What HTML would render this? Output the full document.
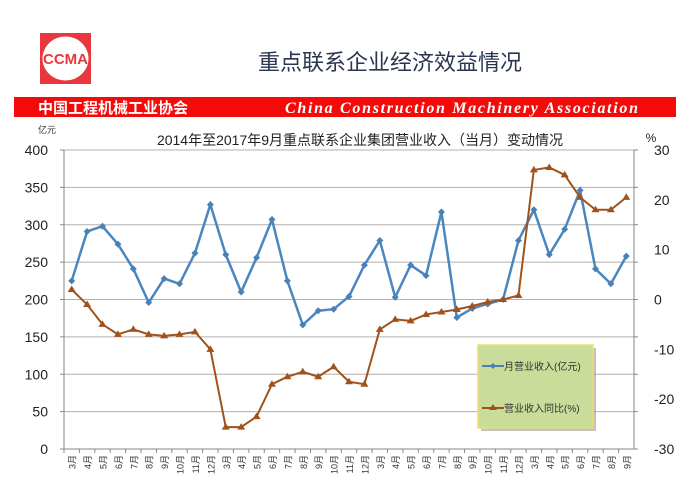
<!DOCTYPE html>
<html><head><meta charset="utf-8"><style>
body{margin:0;background:#fff;width:688px;height:477px;overflow:hidden;font-family:"Liberation Sans","Noto Sans CJK SC",sans-serif}
</style></head><body>
<svg id="s" width="688" height="477" xmlns="http://www.w3.org/2000/svg" font-family="Liberation Sans, Noto Sans CJK SC, sans-serif">
<rect x="40" y="33" width="51" height="51" fill="#e8383d"/>
<ellipse cx="65.5" cy="58.5" rx="23" ry="22" fill="#fff"/>
<text x="65.5" y="64" font-size="15" font-weight="bold" fill="#e8383d" text-anchor="middle">CCMA</text>
<text x="390" y="70" font-size="22" fill="#2a3550" text-anchor="middle">重点联系企业经济效益情况</text>
<rect x="14" y="97" width="662" height="20" fill="#f50a0a"/>
<text x="38" y="113" font-size="15" font-weight="bold" fill="#fff">中国工程机械工业协会</text>
<text x="285" y="113" font-size="16" font-style="italic" font-weight="bold" font-family="Liberation Serif, serif" fill="#fff" textLength="353" lengthAdjust="spacing">China Construction Machinery Association</text>
<text x="38" y="133" font-size="9" fill="#333">亿元</text>
<text x="360" y="145" font-size="14" fill="#222" text-anchor="middle">2014年至2017年9月重点联系企业集团营业收入（当月）变动情况</text>
<text x="651" y="142" font-size="12" fill="#222" text-anchor="middle">%</text>
<g id="g"></g>
<rect x="481" y="348" width="115" height="83" fill="#888" opacity="0.5"/>
<rect x="478" y="345" width="115" height="83" fill="#c9dc9a" stroke="#e8e070" stroke-width="1.5"/>
<line x1="482" y1="366" x2="504" y2="366" stroke="#4a7fb8" stroke-width="2"/>
<path d="M493 363l3 3-3 3-3-3z" fill="#4a7fb8"/>
<text x="504" y="370" font-size="10" fill="#333">月营业收入(亿元)</text>
<line x1="482" y1="408" x2="504" y2="408" stroke="#a0521a" stroke-width="2"/>
<path d="M493 404l4 6h-8z" fill="#a0521a"/>
<text x="504" y="412" font-size="10" fill="#333">营业收入同比(%)</text>
</svg>
<script>
var g=document.getElementById('g'),h='';
var L=64,R=634,T=150,B=449,n=37,w=(R-L)/n;
for(var i=0;i<=8;i++){var y=T+i*(B-T)/8;
 if(i<8)h+='<line x1="'+L+'" y1="'+y+'" x2="'+R+'" y2="'+y+'" stroke="#b0b0b0" stroke-width="1"/>';
 h+='<text x="'+(L-16)+'" y="'+(y+5)+'" font-size="14" fill="#222" text-anchor="end">'+(400-i*50)+'</text>';
 h+='<line x1="'+(L-4)+'" y1="'+y+'" x2="'+L+'" y2="'+y+'" stroke="#888"/><line x1="'+R+'" y1="'+y+'" x2="'+(R+4)+'" y2="'+y+'" stroke="#888"/>';
}
for(var i=0;i<=6;i++){var y=T+i*(B-T)/6;h+='<text x="'+(R+20)+'" y="'+(y+5)+'" font-size="14" fill="#222">'+(30-i*10)+'</text>';}
h+='<line x1="'+L+'" y1="'+T+'" x2="'+L+'" y2="'+B+'" stroke="#888"/><line x1="'+R+'" y1="'+T+'" x2="'+R+'" y2="'+B+'" stroke="#888"/><line x1="'+L+'" y1="'+B+'" x2="'+R+'" y2="'+B+'" stroke="#888"/>';
var m=[];for(var k=0;k<3;k++)for(var j=3;j<=12;j++)m.push(j);for(var j=3;j<=9;j++)m.push(j);
for(var i=0;i<n;i++){var x=L+i*w;h+='<line x1="'+x+'" y1="'+B+'" x2="'+x+'" y2="'+(B+4)+'" stroke="#888"/>';
 var cx=L+(i+0.5)*w;h+='<text transform="translate('+(cx+4)+','+(B+6)+') rotate(-90)" font-size="9" fill="#333" text-anchor="end">'+m[i]+'月</text>';}
var b=[225,291,298,274,241,196,228,221,262,327,260,210,256,307,225,166,185,187,204,246,279,203,246,232,317,176,188,194,200,279,320,260,294,346,241,221,258];
var r=[2,-1,-5,-7,-6,-7,-7.3,-7,-6.5,-10,-25.6,-25.6,-23.5,-17,-15.5,-14.5,-15.5,-13.5,-16.5,-17,-6,-4,-4.3,-3,-2.5,-2,-1.3,-0.5,0,0.8,26,26.5,25,20.5,18,18,20.5];
function yb(v){return B-v/400*(B-T)}function yr(v){return B-(v+30)/60*(B-T)}
var pb='',pr='',mk='';
for(var i=0;i<n;i++){var x=L+(i+0.5)*w;pb+=(i?'L':'M')+x+' '+yb(b[i]);pr+=(i?'L':'M')+x+' '+yr(r[i]);
 var y=yb(b[i]);mk+='<path d="M'+x+' '+(y-3.5)+'l3.5 3.5-3.5 3.5-3.5-3.5z" fill="#4a7fb8"/>';
 y=yr(r[i]);mk+='<path d="M'+x+' '+(y-4)+'l4 6.5h-8z" fill="#a0521a"/>';}
h+='<path d="'+pb+'" fill="none" stroke="#4a86c0" stroke-width="2.5"/><path d="'+pr+'" fill="none" stroke="#a0521a" stroke-width="2"/>'+mk;
g.innerHTML=h;
</script>
</body></html>
